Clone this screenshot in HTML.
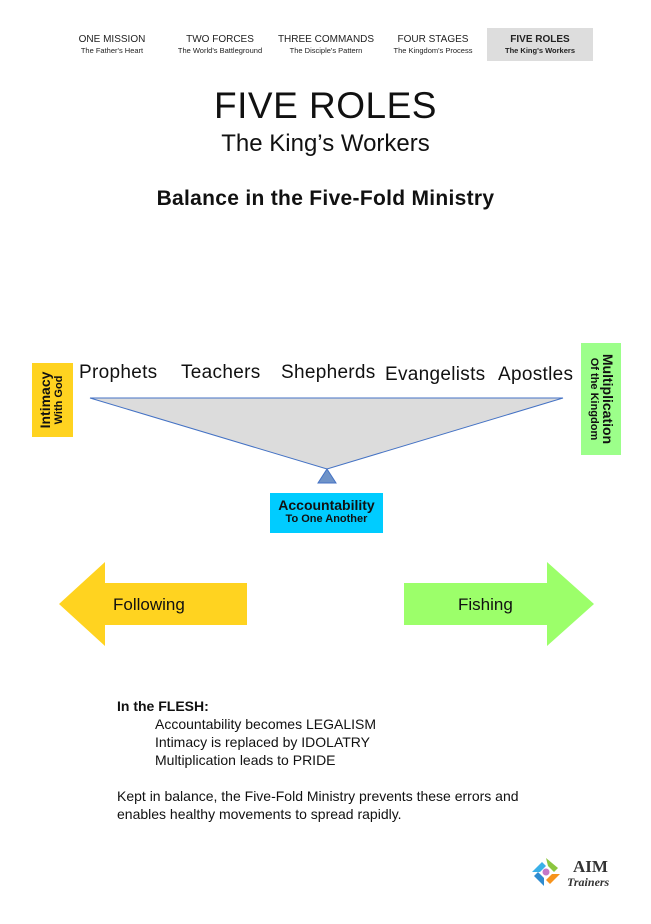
<!DOCTYPE html>
<html><head><meta charset="utf-8"><style>
body{margin:0;width:651px;height:924px;background:#fff;position:relative;font-family:"Liberation Sans",sans-serif;overflow:hidden}
.a{position:absolute}
.nav{position:absolute;top:28px;height:33px;text-align:center;font-size:10px;color:#222;line-height:12px;padding-top:6px;box-sizing:border-box}
.nav small{font-size:7.5px;display:block;line-height:10px}
.r{position:absolute;top:362px;font-size:19px;color:#111;letter-spacing:.3px}
.t{font-size:14px;color:#111}
</style></head><body>
<div class="nav" style="left:62px;width:100px">ONE MISSION<small>The Father's Heart</small></div>
<div class="nav" style="left:170px;width:100px">TWO FORCES<small>The World's Battleground</small></div>
<div class="nav" style="left:276px;width:100px">THREE COMMANDS<small>The Disciple's Pattern</small></div>
<div class="nav" style="left:383px;width:100px">FOUR STAGES<small>The Kingdom's Process</small></div>
<div class="nav" style="left:487px;width:106px;background:#ddd;font-weight:bold">FIVE ROLES<small>The King's Workers</small></div>
<div class="a" style="left:0;width:651px;top:85px;text-align:center;font-size:37px;color:#111;letter-spacing:.5px">FIVE ROLES</div>
<div class="a" style="left:0;width:651px;top:130px;text-align:center;font-size:24px;color:#111">The King’s Workers</div>
<div class="a" style="left:0;width:651px;top:187px;text-align:center;font-size:21px;font-weight:bold;color:#111;letter-spacing:.3px">Balance in the Five-Fold Ministry</div>
<svg class="a" style="left:0;top:0" width="651" height="924">
<polygon points="90,398 563,398 327,469" fill="#dcdcdc" stroke="#4472c4" stroke-width="1"/>
<polygon points="327,469 318,483 336,483" fill="#6f93c8" stroke="#4472c4"/>
<polygon points="59,604 105,562 105,583 247,583 247,625 105,625 105,646" fill="#ffd320"/>
<polygon points="594,604 547,562 547,583 404,583 404,625 547,625 547,646" fill="#9cff6a"/>
<g transform="translate(532,858)">
<path d="M0,14 L10,4 L14,8 L8,14Z" fill="#3ab0e8"/><path d="M14,0 L26,10 L22,14 L16,8Z" fill="#8cc63f"/>
<path d="M28,16 L18,26 L14,22 L20,16Z" fill="#f7941d"/><path d="M12,28 L2,18 L6,14 L12,20Z" fill="#2e8bd0"/>
<circle cx="14" cy="14" r="3.5" fill="#c678c8"/></g>
</svg>
<div class="r" style="left:79px">Prophets</div>
<div class="r" style="left:181px">Teachers</div>
<div class="r" style="left:281px">Shepherds</div>
<div class="r" style="left:385px;top:364px">Evangelists</div>
<div class="r" style="left:498px;top:364px">Apostles</div>
<div class="a" style="left:32px;top:363px;width:41px;height:74px;background:#ffd320"></div>
<div class="a" style="left:52px;top:400px;transform:translate(-50%,-50%) rotate(-90deg);white-space:nowrap;text-align:center;line-height:14px;font-weight:bold;color:#111"><div style="font-size:14px">Intimacy</div><div style="font-size:11px">With God</div></div>
<div class="a" style="left:581px;top:343px;width:40px;height:112px;background:#9cff8a"></div>
<div class="a" style="left:601px;top:399px;transform:translate(-50%,-50%) rotate(90deg);white-space:nowrap;text-align:center;line-height:14px;font-weight:bold;color:#111"><div style="font-size:14px">Multiplication</div><div style="font-size:11px">Of the Kingdom</div></div>
<div class="a" style="left:270px;top:493px;width:113px;height:40px;background:#00ccff;text-align:center;font-weight:bold;color:#111"><div style="font-size:14px;margin-top:4px">Accountability</div><div style="font-size:11px">To One Another</div></div>
<div class="a" style="left:113px;top:595px;font-size:17px;color:#111">Following</div>
<div class="a" style="left:458px;top:595px;font-size:17px;color:#111">Fishing</div>
<div class="a t" style="left:117px;top:698px;font-weight:bold">In the FLESH:</div>
<div class="a t" style="left:155px;top:716px">Accountability becomes LEGALISM</div>
<div class="a t" style="left:155px;top:734px">Intimacy is replaced by IDOLATRY</div>
<div class="a t" style="left:155px;top:752px">Multiplication leads to PRIDE</div>
<div class="a t" style="left:117px;top:788px">Kept in balance, the Five-Fold Ministry prevents these errors and</div>
<div class="a t" style="left:117px;top:806px">enables healthy movements to spread rapidly.</div>
<div class="a" style="left:573px;top:857px;font-family:'Liberation Serif',serif;font-weight:bold;font-size:17px;color:#333">AIM</div>
<div class="a" style="left:567px;top:875px;font-family:'Liberation Serif',serif;font-style:italic;font-weight:bold;font-size:12px;color:#333">Trainers</div>
</body></html>
